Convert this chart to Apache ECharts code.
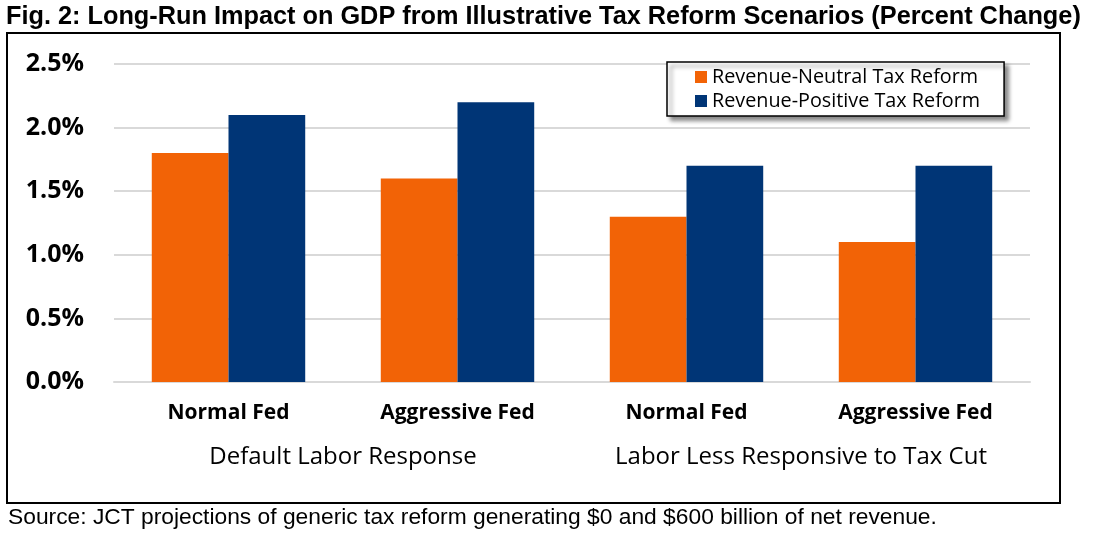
<!DOCTYPE html>
<html>
<head>
<meta charset="utf-8">
<script src="https://cdn.jsdelivr.net/npm/echarts@6/dist/echarts.min.js"></script>
<style>
html,body{margin:0;padding:0;background:#fff;}
#main{width:1093px;height:536px;}
</style>
</head>
<body>
<div id="main"></div>
<script>
const categories = ['Normal Fed', 'Aggressive Fed', 'Normal Fed', 'Aggressive Fed'];
const groups = ['Default Labor Response', 'Labor Less Responsive to Tax Cut'];
const seriesNames = ['Revenue-Neutral Tax Reform', 'Revenue-Positive Tax Reform'];
const revenueNeutral = [1.8, 1.6, 1.3, 1.1];
const revenuePositive = [2.1, 2.2, 1.7, 1.7];
const yTicks = [0, 0.5, 1.0, 1.5, 2.0, 2.5];
const titleText = 'Fig. 2: Long-Run Impact on GDP from Illustrative Tax Reform Scenarios (Percent Change)';
const sourceText = 'Source: JCT projections of generic tax reform generating $0 and $600 billion of net revenue.';

const calibri = '"Open Sans", Lato, sans-serif';
const arial = '"Liberation Sans", Arial, sans-serif';

const chart = echarts.init(document.getElementById('main'), null, {renderer: 'canvas'});
chart.setOption({
  animation: false,
  backgroundColor: '#fff',
  graphic: [
    {type: 'rect', shape: {x: 7, y: 33, width: 1053, height: 470}, style: {fill: 'none', stroke: '#000', lineWidth: 2}, z: -1},
    {type: 'text', x: 6, y: 5, style: {text: titleText, font: 'bold 25.3px ' + arial, fill: '#000', textVerticalAlign: 'top'}},
    {type: 'text', x: 8, y: 506, style: {text: sourceText, font: '22.8px ' + arial, fill: '#000', textVerticalAlign: 'top'}}
  ],
  legend: {
    data: seriesNames,
    orient: 'vertical',
    left: 667, top: 62,
    padding: [5, 24, 5, 28],
    itemGap: 4,
    itemWidth: 12, itemHeight: 12,
    icon: 'rect',
    backgroundColor: '#fff',
    borderColor: '#000',
    borderWidth: 1.5,
    borderRadius: 0,
    shadowColor: 'rgba(0,0,0,0.45)',
    shadowBlur: 4,
    shadowOffsetX: 4, shadowOffsetY: 4,
    textStyle: {fontFamily: calibri, fontSize: 19.8, color: '#000'}
  },
  grid: {left: 114, right: 63, top: 64, bottom: 154},
  xAxis: [
    {
      type: 'category', data: categories, position: 'bottom',
      axisLine: {show: true, lineStyle: {color: '#d9d9d9', width: 2}},
      axisTick: {show: false},
      axisLabel: {interval: 0, margin: 21, fontFamily: calibri, fontWeight: 'bold', fontSize: 21, color: '#000'}
    },
    {
      type: 'category', data: groups, position: 'bottom', offset: 55,
      axisLine: {show: false}, axisTick: {show: false}, splitLine: {show: false},
      axisLabel: {interval: 0, hideOverlap: false, fontFamily: calibri, fontSize: 24, color: '#000'}
    }
  ],
  yAxis: {
    type: 'value', min: 0, max: 2.5, interval: 0.5,
    axisLine: {show: false}, axisTick: {show: false},
    splitLine: {lineStyle: {color: '#d9d9d9', width: 2}},
    axisLabel: {
      margin: 30, fontFamily: calibri, fontWeight: 'bold', fontSize: 25, color: '#000',
      formatter: v => yTicks.includes(+v.toFixed(1)) ? v.toFixed(1) + '%' : ''
    }
  },
  series: [
    {name: seriesNames[0], type: 'bar', data: revenueNeutral, xAxisIndex: 0, barGap: '0%', barCategoryGap: '33%', itemStyle: {color: '#F26306'}},
    {name: seriesNames[1], type: 'bar', data: revenuePositive, xAxisIndex: 0, barGap: '0%', barCategoryGap: '33%', itemStyle: {color: '#003576'}}
  ]
});
</script>
</body>
</html>
